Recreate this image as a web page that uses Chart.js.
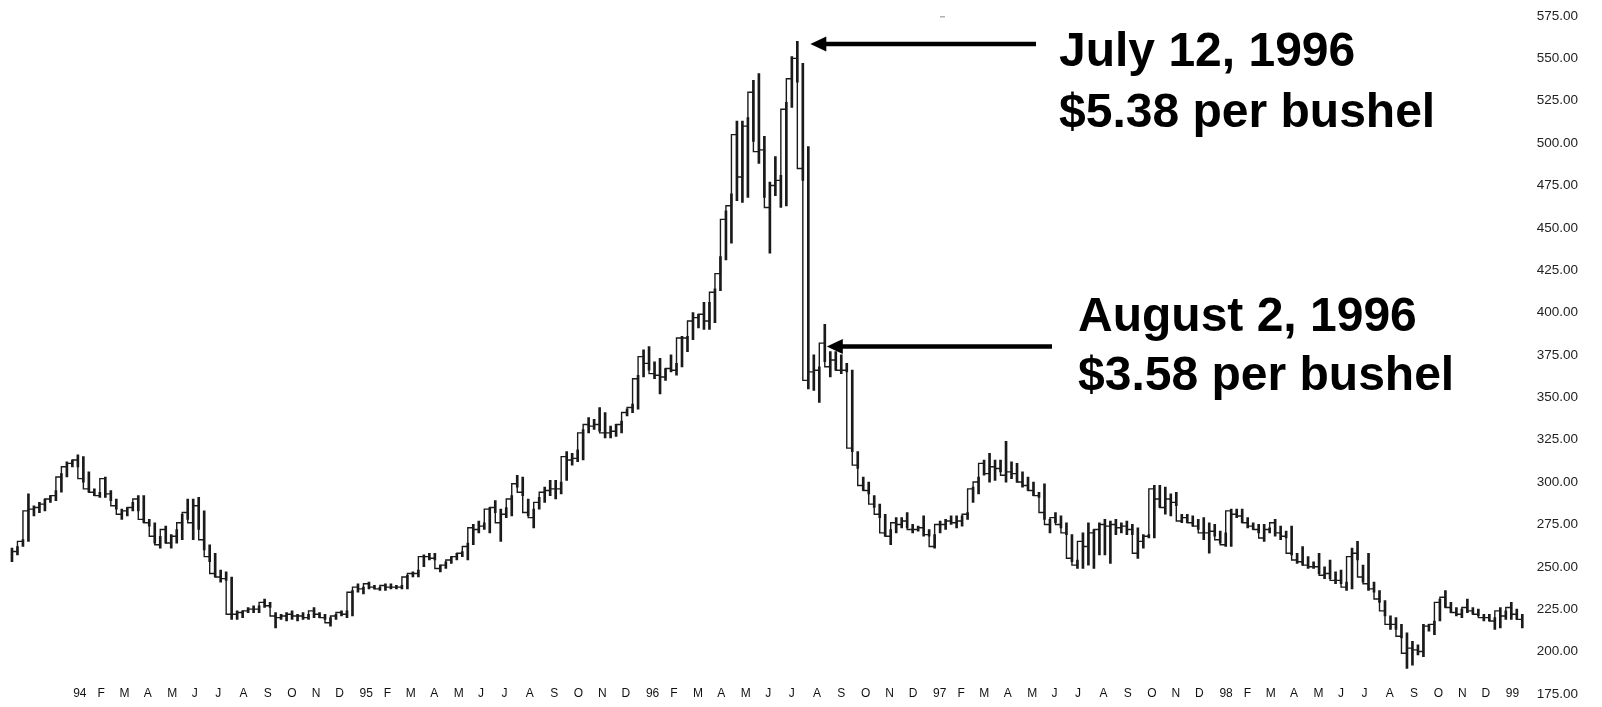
<!DOCTYPE html>
<html>
<head>
<meta charset="utf-8">
<title>Corn 1994-1999</title>
<script src="https://cdn.jsdelivr.net/npm/chart.js@4.4.0/dist/chart.umd.min.js"></script>
<style>
  html, body { margin: 0; padding: 0; background: #fff; }
</style>
</head>
<body>
<canvas id="corn" width="1602" height="707"></canvas>
<script>
// weekly bars, the first one is the week ending Fri Oct 15 1993
const FIRST_WEEK = Date.UTC(1993, 9, 15);
const DAY = 86400000;

// cents per bushel
const highs = [
  261,262,266,293,286,288,290,292,295,305,312,313,316,315,306,296,294,303,295,290,
  284,285,288,292,292,278,276,268,274,269,272,281,290,290,291,283,263,258,248,247,
  244,224,224,226,227,227,231,229,223,222,223,224,222,223,222,226,223,222,220,222,
  224,224,236,240,238,241,239,238,240,240,239,239,245,247,248,257,258,258,251,253,
  256,258,259,264,275,277,276,285,289,284,285,292,304,303,290,284,291,297,301,301,
  300,318,317,319,331,338,337,344,341,333,334,336,343,346,363,378,380,371,373,367,
  375,370,386,386,400,399,406,406,414,433,460,470,513,513,515,537,541,504,477,492,
  481,524,551,560,547,498,375,368,393,377,377,375,370,366,318,303,300,292,287,281,
  272,279,279,282,275,274,280,272,269,277,278,280,280,280,282,297,303,313,317,313,
  313,324,312,311,306,303,300,294,299,278,282,280,276,269,254,270,276,272,276,278,
  277,278,276,277,275,273,269,269,298,298,297,293,294,281,281,280,278,279,276,275,
  271,270,284,284,284,279,276,275,275,273,278,274,271,274,258,262,256,253,258,250,
  254,247,248,241,261,265,251,258,241,236,230,221,220,216,211,206,204,216,216,218,
  231,236,229,226,225,231,226,225,222,222,220,226,224,229,225,222
];
const lows = [
  253,257,262,265,280,282,283,288,289,294,303,309,309,300,294,292,291,291,289,284,
  278,280,283,283,276,274,264,261,264,261,264,266,278,266,272,260,253,244,241,242,
  219,219,220,223,223,223,226,226,214,219,218,219,218,219,219,220,220,219,215,219,
  221,220,221,235,234,237,237,236,236,237,237,237,237,244,244,250,254,254,247,249,
  252,254,256,254,263,270,272,270,282,265,279,280,297,292,280,273,284,288,292,290,
  293,301,310,312,313,329,331,330,326,326,327,329,339,341,343,362,366,361,352,360,
  365,363,368,377,384,391,390,390,394,413,431,441,466,465,468,501,488,468,435,469,
  462,463,521,536,478,355,354,347,371,362,366,364,365,318,308,295,293,285,279,268,
  263,270,273,273,270,271,268,268,261,270,272,275,273,274,278,288,293,304,300,301,
  306,300,302,300,297,295,292,291,278,270,276,273,269,253,249,249,251,249,257,257,
  252,269,270,269,269,255,261,267,267,285,281,280,286,276,276,274,272,266,258,268,
  264,262,262,279,276,273,272,270,265,270,268,266,267,257,252,251,249,249,246,243,
  243,240,240,236,237,254,241,236,235,229,221,213,213,208,190,192,198,197,212,210,
  218,226,223,221,220,223,222,221,218,218,213,214,219,219,219,214
];
const closes = [
  258,259,265,283,284,285,287,290,292,303,309,311,313,302,296,294,292,302,293,286,
  281,283,285,290,278,276,268,263,272,264,268,276,282,276,286,266,256,246,244,243,
  222,222,223,224,225,225,229,227,221,220,221,222,221,221,220,224,222,220,217,221,
  223,222,235,238,237,240,238,237,239,238,238,238,244,246,246,256,256,255,249,251,
  254,256,258,262,273,272,274,284,285,276,281,290,299,294,282,279,288,294,295,296,
  296,315,313,314,329,334,333,334,329,329,330,334,341,344,361,374,370,364,363,362,
  367,366,385,385,395,397,399,395,412,423,455,463,505,480,510,530,495,496,462,475,
  478,520,538,550,485,360,365,366,382,368,372,366,366,320,310,298,295,287,281,270,
  268,276,275,277,272,272,273,269,262,275,275,277,276,277,281,296,300,311,305,309,
  308,304,306,305,300,298,295,292,282,275,279,275,270,255,251,265,262,270,272,275,
  274,275,273,274,272,258,265,268,296,290,285,290,288,277,279,276,274,270,270,271,
  266,263,283,281,280,276,274,272,267,272,276,270,268,258,254,253,251,250,250,245,
  246,242,242,238,256,258,244,240,237,231,224,216,216,209,199,202,201,200,215,216,
  229,232,226,223,222,226,224,222,220,220,218,224,221,226,222,219
];

const yearLabels = ['94', '95', '96', '97', '98', '99'];
const monthLetters = ['', 'F', 'M', 'A', 'M', 'J', 'J', 'A', 'S', 'O', 'N', 'D'];
const priceTicks = [175, 200, 225, 250, 275, 300, 325, 350, 375, 400, 425, 450, 475, 500, 525, 550, 575];

// the two marked weeks (July 12 and the early August bounce)
const peakWeek = 143, peakPrice = 558.5;
const augWeek = 148, augPrice = 380;
const notes = [
  ['July 12, 1996', '$5.38 per bushel'],
  ['August 2, 1996', '$3.58 per bushel']
];

// x values are days after the first week
const ranges = highs.map((h, i) => ({ x: i * 7, y: [lows[i], h] }));
const closePts = closes.map((c, i) => ({ x: i * 7, y: c }));

// one tick on the 1st of every month, year number on january
const monthTicks = [];
for (let yr = 1994; yr <= 1999; yr++) {
  for (let m = 0; m < 12; m++) {
    if (yr === 1999 && m > 0) break;
    monthTicks.push({
      day: (Date.UTC(yr, m, 1) - FIRST_WEEK) / DAY,
      label: m === 0 ? yearLabels[yr - 1994] : monthLetters[m]
    });
  }
}

function arrow(ctx, tipX, y, tailX) {
  ctx.strokeStyle = '#000';
  ctx.fillStyle = '#000';
  ctx.lineWidth = 4.5;
  ctx.beginPath();
  ctx.moveTo(tipX + 12, y);
  ctx.lineTo(tailX, y);
  ctx.stroke();
  ctx.beginPath();
  ctx.moveTo(tipX, y);
  ctx.lineTo(tipX + 16, y - 7.5);
  ctx.lineTo(tipX + 16, y + 7.5);
  ctx.closePath();
  ctx.fill();
}

const annotate = {
  id: 'annotate',
  afterDraw(chart) {
    const ctx = chart.ctx;
    const x = chart.scales.x, y = chart.scales.y;
    ctx.save();
    arrow(ctx, x.getPixelForValue(peakWeek * 7) + 13, y.getPixelForValue(peakPrice), 1036);
    arrow(ctx, x.getPixelForValue(augWeek * 7) + 2, y.getPixelForValue(augPrice), 1052);

    ctx.fillStyle = '#000';
    ctx.font = 'bold 48px "Liberation Sans", Arial, sans-serif';
    ctx.textBaseline = 'alphabetic';
    ctx.textAlign = 'left';
    ctx.fillText(notes[0][0], 1059, 66);
    ctx.fillText(notes[0][1], 1059, 127);
    ctx.fillText(notes[1][0], 1078, 331);
    ctx.fillText(notes[1][1], 1078, 390);

    // little grey speck at the top of the scan
    ctx.fillStyle = '#b0b0b0';
    ctx.fillRect(940, 16, 5, 1.5);
    ctx.restore();
  }
};

const ctx = document.getElementById('corn').getContext('2d');
new Chart(ctx, {
  type: 'bar',
  data: {
    datasets: [
      {
        type: 'bar',
        data: ranges,
        backgroundColor: '#1a1a1a',
        barThickness: 2,
        order: 2
      },
      {
        type: 'line',
        data: closePts,
        stepped: 'after',
        borderColor: '#1a1a1a',
        borderWidth: 1.4,
        pointRadius: 0,
        fill: false,
        order: 1
      }
    ]
  },
  options: {
    responsive: false,
    animation: false,
    devicePixelRatio: 1,
    layout: { padding: { left: 0, right: 19, top: 16, bottom: 10 } },
    plugins: {
      legend: { display: false },
      tooltip: { enabled: false }
    },
    scales: {
      x: {
        type: 'linear',
        // pinned to the bottom price so the month row lines up with 175.00
        position: { y: 175 },
        min: -15.25,
        max: 1937,
        offset: false,
        grid: { display: false, drawTicks: false },
        border: { display: false },
        afterBuildTicks: axis => {
          axis.ticks = monthTicks.map(t => ({ value: t.day }));
        },
        ticks: {
          autoSkip: false,
          maxRotation: 0,
          align: 'start',
          padding: -7.2,
          color: '#111',
          font: { family: '"Liberation Sans", Arial, sans-serif', size: 12 },
          callback: (v, i) => monthTicks[i].label
        }
      },
      y: {
        position: 'right',
        min: 175,
        max: 575,
        grid: { display: false, drawTicks: false },
        border: { display: false },
        afterBuildTicks: axis => {
          axis.ticks = priceTicks.map(v => ({ value: v }));
        },
        ticks: {
          padding: 5,
          color: '#222',
          font: { family: '"Liberation Sans", Arial, sans-serif', size: 13.5 },
          callback: v => v.toFixed(2)
        }
      }
    }
  },
  plugins: [annotate]
});
</script>
</body>
</html>
